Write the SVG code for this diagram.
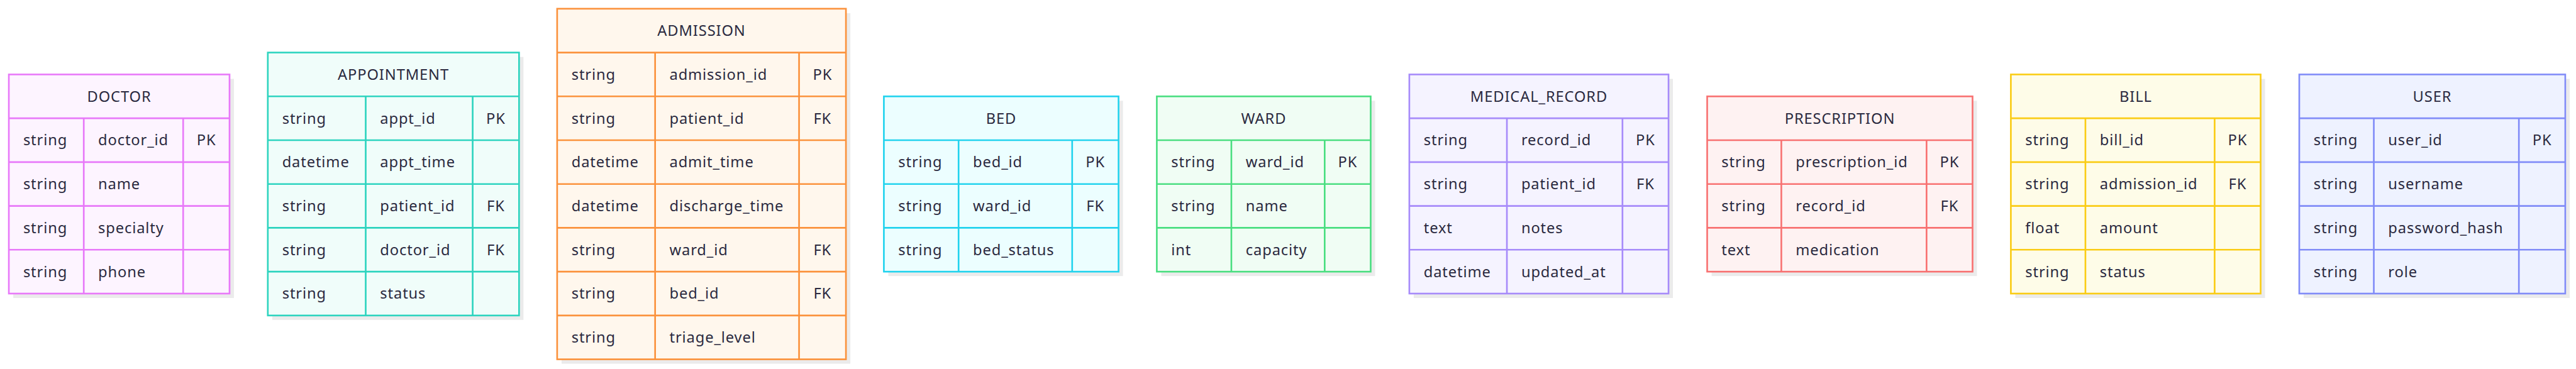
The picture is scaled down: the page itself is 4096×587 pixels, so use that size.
<svg xmlns="http://www.w3.org/2000/svg" width="4096" height="587" viewBox="0 0 4096 587">
<style>
text{font-family:"Noto Sans","Open Sans",sans-serif;font-size:27px;fill:#2b2a3f;letter-spacing:1px}
.c{text-anchor:middle}
.sh{fill:#ebebeb}
.box,.grid{stroke-width:3}
.grid{fill:none}
#doctor .box{fill:#fdf4ff;stroke:#e879f9}#doctor .grid{stroke:#e879f9}
#appointment .box{fill:#f0fdfa;stroke:#2dd4bf}#appointment .grid{stroke:#2dd4bf}
#admission .box{fill:#fff7ed;stroke:#fb923c}#admission .grid{stroke:#fb923c}
#bed .box{fill:#ecfeff;stroke:#22d3ee}#bed .grid{stroke:#22d3ee}
#ward .box{fill:#f0fdf4;stroke:#4ade80}#ward .grid{stroke:#4ade80}
#medical_record .box{fill:#f5f3ff;stroke:#a78bfa}#medical_record .grid{stroke:#a78bfa}
#prescription .box{fill:#fef2f2;stroke:#f87171}#prescription .grid{stroke:#f87171}
#bill .box{fill:#fefce8;stroke:#facc15}#bill .grid{stroke:#facc15}
#user .box{fill:#eef2ff;stroke:#818cf8}#user .grid{stroke:#818cf8}
</style>
<rect width="4096" height="587" fill="#ffffff"/>
<g transform="scale(0.878)">
<g id="connectors"/>

<g id="doctor">
<rect class="sh" x="24" y="142.9" width="399.7" height="397"/>
<rect class="box" x="16" y="134.9" width="399.7" height="397"/>
<path class="grid" d="M16 214.3H415.7M16 293.7H415.7M16 373.1H415.7M16 452.5H415.7M151.7 214.3V531.9M331.7 214.3V531.9"/>
<text class="c" x="215.85" y="184.2">DOCTOR</text>
<text x="42" y="263.6">string</text><text x="177.7" y="263.6">doctor_id</text><text class="c" x="373.7" y="263.6">PK</text>
<text x="42" y="343">string</text><text x="177.7" y="343">name</text>
<text x="42" y="422.4">string</text><text x="177.7" y="422.4">specialty</text>
<text x="42" y="501.8">string</text><text x="177.7" y="501.8">phone</text>
</g>

<g id="appointment">
<rect class="sh" x="493" y="103.2" width="455" height="476.4"/>
<rect class="box" x="485" y="95.2" width="455" height="476.4"/>
<path class="grid" d="M485 174.6H940M485 254H940M485 333.4H940M485 412.8H940M485 492.2H940M662.3 174.6V571.6M856 174.6V571.6"/>
<text class="c" x="712.5" y="144.5">APPOINTMENT</text>
<text x="511" y="223.9">string</text><text x="688.3" y="223.9">appt_id</text><text class="c" x="898" y="223.9">PK</text>
<text x="511" y="303.3">datetime</text><text x="688.3" y="303.3">appt_time</text>
<text x="511" y="382.7">string</text><text x="688.3" y="382.7">patient_id</text><text class="c" x="898" y="382.7">FK</text>
<text x="511" y="462.1">string</text><text x="688.3" y="462.1">doctor_id</text><text class="c" x="898" y="462.1">FK</text>
<text x="511" y="541.5">string</text><text x="688.3" y="541.5">status</text>
</g>

<g id="admission">
<rect class="sh" x="1017" y="23.8" width="523" height="635.2"/>
<rect class="box" x="1009" y="15.8" width="523" height="635.2"/>
<path class="grid" d="M1009 95.2H1532M1009 174.6H1532M1009 254H1532M1009 333.4H1532M1009 412.8H1532M1009 492.2H1532M1009 571.6H1532M1186.4 95.2V651M1447.1 95.2V651"/>
<text class="c" x="1270.5" y="65.1">ADMISSION</text>
<text x="1035" y="144.5">string</text><text x="1212.4" y="144.5">admission_id</text><text class="c" x="1489.55" y="144.5">PK</text>
<text x="1035" y="223.9">string</text><text x="1212.4" y="223.9">patient_id</text><text class="c" x="1489.55" y="223.9">FK</text>
<text x="1035" y="303.3">datetime</text><text x="1212.4" y="303.3">admit_time</text>
<text x="1035" y="382.7">datetime</text><text x="1212.4" y="382.7">discharge_time</text>
<text x="1035" y="462.1">string</text><text x="1212.4" y="462.1">ward_id</text><text class="c" x="1489.55" y="462.1">FK</text>
<text x="1035" y="541.5">string</text><text x="1212.4" y="541.5">bed_id</text><text class="c" x="1489.55" y="541.5">FK</text>
<text x="1035" y="620.9">string</text><text x="1212.4" y="620.9">triage_level</text>
</g>

<g id="bed">
<rect class="sh" x="1608.7" y="182.6" width="425" height="317.6"/>
<rect class="box" x="1600.7" y="174.6" width="425" height="317.6"/>
<path class="grid" d="M1600.7 254H2025.7M1600.7 333.4H2025.7M1600.7 412.8H2025.7M1736 254V492.2M1941.7 254V492.2"/>
<text class="c" x="1813.2" y="223.9">BED</text>
<text x="1626.7" y="303.3">string</text><text x="1762" y="303.3">bed_id</text><text class="c" x="1983.7" y="303.3">PK</text>
<text x="1626.7" y="382.7">string</text><text x="1762" y="382.7">ward_id</text><text class="c" x="1983.7" y="382.7">FK</text>
<text x="1626.7" y="462.1">string</text><text x="1762" y="462.1">bed_status</text>
</g>

<g id="ward">
<rect class="sh" x="2103" y="182.6" width="387.3" height="317.6"/>
<rect class="box" x="2095" y="174.6" width="387.3" height="317.6"/>
<path class="grid" d="M2095 254H2482.3M2095 333.4H2482.3M2095 412.8H2482.3M2230 254V492.2M2399 254V492.2"/>
<text class="c" x="2288.65" y="223.9">WARD</text>
<text x="2121" y="303.3">string</text><text x="2256" y="303.3">ward_id</text><text class="c" x="2440.65" y="303.3">PK</text>
<text x="2121" y="382.7">string</text><text x="2256" y="382.7">name</text>
<text x="2121" y="462.1">int</text><text x="2256" y="462.1">capacity</text>
</g>

<g id="medical_record">
<rect class="sh" x="2560.3" y="142.9" width="469.4" height="397"/>
<rect class="box" x="2552.3" y="134.9" width="469.4" height="397"/>
<path class="grid" d="M2552.3 214.3H3021.7M2552.3 293.7H3021.7M2552.3 373.1H3021.7M2552.3 452.5H3021.7M2729 214.3V531.9M2938.3 214.3V531.9"/>
<text class="c" x="2787" y="184.2">MEDICAL_RECORD</text>
<text x="2578.3" y="263.6">string</text><text x="2755" y="263.6">record_id</text><text class="c" x="2980" y="263.6">PK</text>
<text x="2578.3" y="343">string</text><text x="2755" y="343">patient_id</text><text class="c" x="2980" y="343">FK</text>
<text x="2578.3" y="422.4">text</text><text x="2755" y="422.4">notes</text>
<text x="2578.3" y="501.8">datetime</text><text x="2755" y="501.8">updated_at</text>
</g>

<g id="prescription">
<rect class="sh" x="3099.7" y="182.6" width="480.6" height="317.6"/>
<rect class="box" x="3091.7" y="174.6" width="480.6" height="317.6"/>
<path class="grid" d="M3091.7 254H3572.3M3091.7 333.4H3572.3M3091.7 412.8H3572.3M3226 254V492.2M3489 254V492.2"/>
<text class="c" x="3332" y="223.9">PRESCRIPTION</text>
<text x="3117.7" y="303.3">string</text><text x="3252" y="303.3">prescription_id</text><text class="c" x="3530.65" y="303.3">PK</text>
<text x="3117.7" y="382.7">string</text><text x="3252" y="382.7">record_id</text><text class="c" x="3530.65" y="382.7">FK</text>
<text x="3117.7" y="462.1">text</text><text x="3252" y="462.1">medication</text>
</g>

<g id="bill">
<rect class="sh" x="3649.7" y="142.9" width="452.3" height="397"/>
<rect class="box" x="3641.7" y="134.9" width="452.3" height="397"/>
<path class="grid" d="M3641.7 214.3H4094M3641.7 293.7H4094M3641.7 373.1H4094M3641.7 452.5H4094M3776.7 214.3V531.9M4010.7 214.3V531.9"/>
<text class="c" x="3867.85" y="184.2">BILL</text>
<text x="3667.7" y="263.6">string</text><text x="3802.7" y="263.6">bill_id</text><text class="c" x="4052.35" y="263.6">PK</text>
<text x="3667.7" y="343">string</text><text x="3802.7" y="343">admission_id</text><text class="c" x="4052.35" y="343">FK</text>
<text x="3667.7" y="422.4">float</text><text x="3802.7" y="422.4">amount</text>
<text x="3667.7" y="501.8">string</text><text x="3802.7" y="501.8">status</text>
</g>

<g id="user">
<rect class="sh" x="4172" y="142.9" width="481.7" height="397"/>
<rect class="box" x="4164" y="134.9" width="481.7" height="397"/>
<path class="grid" d="M4164 214.3H4645.7M4164 293.7H4645.7M4164 373.1H4645.7M4164 452.5H4645.7M4299 214.3V531.9M4561.7 214.3V531.9"/>
<text class="c" x="4404.85" y="184.2">USER</text>
<text x="4190" y="263.6">string</text><text x="4325" y="263.6">user_id</text><text class="c" x="4603.7" y="263.6">PK</text>
<text x="4190" y="343">string</text><text x="4325" y="343">username</text>
<text x="4190" y="422.4">string</text><text x="4325" y="422.4">password_hash</text>
<text x="4190" y="501.8">string</text><text x="4325" y="501.8">role</text>
</g>
</g>
</svg>
